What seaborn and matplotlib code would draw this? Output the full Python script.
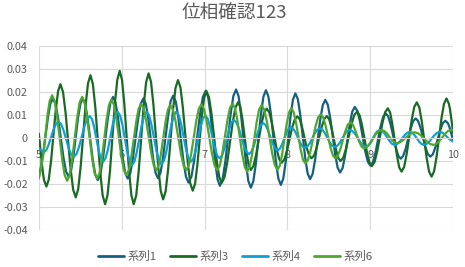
import matplotlib
matplotlib.use("Agg")
import matplotlib.pyplot as plt
import numpy as np
import pandas as pd
import seaborn as sns

# ---------------- data ----------------
series_names = ["系列1", "系列3", "系列4", "系列6"]
series_colors = ["#156082", "#196B24", "#0F9ED5", "#4EA72E"]

# --- 系列1 ---
x_s1 = [5.000, 5.057, 5.113, 5.170, 5.233, 5.297, 5.360, 5.417, 5.473, 5.530, 5.590, 5.651,
        5.711, 5.773, 5.834, 5.896, 5.955, 6.013, 6.072, 6.135, 6.199, 6.262, 6.321, 6.379,
        6.438, 6.499, 6.560, 6.621, 6.683, 6.745, 6.807, 6.876, 6.946, 7.015, 7.072, 7.128,
        7.185, 7.250, 7.315, 7.380, 7.439, 7.499, 7.558, 7.619, 7.679, 7.740, 7.800, 7.860,
        7.920, 7.978, 8.037, 8.095, 8.154, 8.214, 8.273, 8.334, 8.395, 8.456, 8.516, 8.575,
        8.635, 8.694, 8.753, 8.812, 8.875, 8.937, 9.000, 9.062, 9.123, 9.185, 9.245, 9.306,
        9.366, 9.426, 9.486, 9.546, 9.605, 9.664, 9.723, 9.783, 9.844, 9.904, 9.952, 10.000]
y_s1 = [-0.0154, -0.0059, 0.0096, 0.0172, 0.0087, -0.0083, -0.0168, -0.0083, 0.0087, 0.0172, 0.0083, -0.0094,
        -0.0183, -0.0093, 0.0089, 0.0179, 0.0090, -0.0087, -0.0176, -0.0089, 0.0085, 0.0172, 0.0085, -0.0088,
        -0.0175, -0.0085, 0.0094, 0.0184, 0.0090, -0.0100, -0.0194, -0.0094, 0.0106, 0.0206, 0.0103, -0.0105,
        -0.0208, -0.0103, 0.0106, 0.0211, 0.0104, -0.0109, -0.0216, -0.0110, 0.0102, 0.0208, 0.0105, -0.0101,
        -0.0204, -0.0105, 0.0095, 0.0194, 0.0101, -0.0086, -0.0179, -0.0093, 0.0080, 0.0166, 0.0087, -0.0071,
        -0.0150, -0.0079, 0.0064, 0.0135, 0.0071, -0.0056, -0.0120, -0.0063, 0.0050, 0.0107, 0.0058, -0.0041,
        -0.0090, -0.0046, 0.0041, 0.0085, 0.0044, -0.0040, -0.0081, -0.0042, 0.0036, 0.0075, 0.0050, -0.0012]
x_s1_near_peaks = [5.020, 5.140, 5.202, 5.328, 5.388, 5.502, 5.560, 5.681, 5.742, 5.865, 5.925, 6.043,
                   6.104, 6.230, 6.291, 6.409, 6.4685, 6.5905, 6.652, 6.776, 6.842, 6.980, 7.043, 7.157,
                   7.2175, 7.3475, 7.410, 7.528, 7.588, 7.710, 7.770, 7.890, 7.949, 8.066, 8.125, 8.243,
                   8.3035, 8.4255, 8.486, 8.605, 8.6645, 8.7825, 8.843, 8.969, 9.031, 9.154, 9.215, 9.336,
                   9.396, 9.516, 9.5755, 9.6935, 9.753, 9.874, 9.934]
y_s1_near_peaks = [-0.0138, 0.0149, 0.0149, -0.0145, -0.0145, 0.0149, 0.0148, -0.0159, -0.0159, 0.0155, 0.0155, -0.0152,
                   -0.0153, 0.0149, 0.0149, -0.0152, -0.0151, 0.0160, 0.0159, -0.0169, -0.0167, 0.0179, 0.0178, -0.0180,
                   -0.0180, 0.0183, 0.0182, -0.0187, -0.0188, 0.0180, 0.0180, -0.0176, -0.0177, 0.0167, 0.0169, -0.0154,
                   -0.0156, 0.0143, 0.0145, -0.0129, -0.0131, 0.0116, 0.0118, -0.0103, -0.0105, 0.0092, 0.0094, -0.0077,
                   -0.0078, 0.0074, 0.0074, -0.0070, -0.0071, 0.0065, 0.0065]

# --- 系列3 ---
x_s3 = [5.000, 5.046, 5.092, 5.148, 5.205, 5.261, 5.323, 5.384, 5.446, 5.505, 5.564, 5.623,
        5.682, 5.741, 5.800, 5.859, 5.917, 5.976, 6.032, 6.089, 6.145, 6.205, 6.265, 6.325,
        6.383, 6.442, 6.500, 6.560, 6.619, 6.679, 6.738, 6.798, 6.857, 6.912, 6.967, 7.022,
        7.084, 7.145, 7.207, 7.273, 7.339, 7.405, 7.456, 7.507, 7.558, 7.622, 7.686, 7.750,
        7.810, 7.870, 7.930, 7.993, 8.055, 8.118, 8.175, 8.233, 8.290, 8.352, 8.413, 8.475,
        8.530, 8.585, 8.640, 8.707, 8.773, 8.840, 8.899, 8.959, 9.018, 9.082, 9.146, 9.210,
        9.265, 9.321, 9.376, 9.437, 9.499, 9.560, 9.619, 9.679, 9.738, 9.798, 9.858, 9.918,
        9.960, 10.000]
y_s3 = [0.0020, -0.0140, -0.0211, -0.0100, 0.0123, 0.0234, 0.0111, -0.0135, -0.0258, -0.0125, 0.0140, 0.0273,
        0.0133, -0.0148, -0.0288, -0.0143, 0.0147, 0.0292, 0.0147, -0.0143, -0.0288, -0.0146, 0.0139, 0.0281,
        0.0144, -0.0130, -0.0267, -0.0137, 0.0122, 0.0252, 0.0132, -0.0109, -0.0229, -0.0121, 0.0096, 0.0204,
        0.0104, -0.0095, -0.0195, -0.0107, 0.0068, 0.0156, 0.0082, -0.0065, -0.0139, -0.0072, 0.0061, 0.0128,
        0.0069, -0.0049, -0.0108, -0.0058, 0.0044, 0.0094, 0.0049, -0.0043, -0.0088, -0.0042, 0.0049, 0.0095,
        0.0046, -0.0051, -0.0100, -0.0046, 0.0061, 0.0115, 0.0056, -0.0063, -0.0122, -0.0059, 0.0066, 0.0129,
        0.0060, -0.0077, -0.0146, -0.0071, 0.0080, 0.0155, 0.0074, -0.0087, -0.0168, -0.0083, 0.0087, 0.0172,
        0.0126, 0.0020]
x_s3_near_peaks = [5.063, 5.120, 5.233, 5.292, 5.415, 5.4755, 5.5935, 5.6525, 5.7705, 5.829, 5.947, 6.004,
                   6.117, 6.175, 6.295, 6.354, 6.471, 6.530, 6.649, 6.709, 6.827, 6.8845, 6.9945, 7.053,
                   7.176, 7.240, 7.372, 7.4305, 7.5325, 7.590, 7.718, 7.780, 7.900, 7.961, 8.087, 8.147,
                   8.261, 8.321, 8.444, 8.5025, 8.6125, 8.673, 8.807, 8.870, 8.988, 9.050, 9.178, 9.238,
                   9.348, 9.407, 9.529, 9.590, 9.708, 9.768, 9.888, 9.947]
y_s3_near_peaks = [-0.0183, -0.0181, 0.0204, 0.0201, -0.0225, -0.0222, 0.0237, 0.0235, -0.0250, -0.0249, 0.0253, 0.0253,
                   -0.0249, -0.0250, 0.0243, 0.0244, -0.0230, -0.0232, 0.0217, 0.0220, -0.0197, -0.0200, 0.0175, 0.0177,
                   -0.0168, -0.0171, 0.0132, 0.0136, -0.0119, -0.0121, 0.0110, 0.0112, -0.0092, -0.0094, 0.0080, 0.0082,
                   -0.0076, -0.0076, 0.0083, 0.0082, -0.0087, -0.0086, 0.0101, 0.0099, -0.0106, -0.0105, 0.0112, 0.0111,
                   -0.0128, -0.0126, 0.0135, 0.0133, -0.0146, -0.0145, 0.0149, 0.0149]

# --- 系列4 ---
x_s4 = [5.000, 5.060, 5.119, 5.179, 5.238, 5.299, 5.361, 5.422, 5.486, 5.551, 5.615, 5.669,
        5.722, 5.776, 5.835, 5.893, 5.952, 6.010, 6.067, 6.125, 6.183, 6.242, 6.300, 6.360,
        6.420, 6.480, 6.540, 6.599, 6.659, 6.718, 6.776, 6.835, 6.893, 6.950, 7.008, 7.065,
        7.123, 7.180, 7.238, 7.295, 7.353, 7.414, 7.474, 7.535, 7.592, 7.648, 7.705, 7.763,
        7.822, 7.880, 7.933, 7.987, 8.040, 8.097, 8.153, 8.210, 8.270, 8.330, 8.390, 8.450,
        8.510, 8.570, 8.630, 8.691, 8.751, 8.817, 8.882, 8.948, 9.003, 9.058, 9.113, 9.173,
        9.233, 9.293, 9.354, 9.415, 9.476, 9.532, 9.589, 9.645, 9.709, 9.774, 9.838, 9.900,
        9.950, 10.000]
y_s4 = [-0.0045, -0.0062, -0.0029, 0.0038, 0.0071, 0.0033, -0.0044, -0.0082, -0.0038, 0.0051, 0.0095, 0.0046,
        -0.0054, -0.0103, -0.0049, 0.0060, 0.0114, 0.0056, -0.0060, -0.0118, -0.0060, 0.0056, 0.0114, 0.0057,
        -0.0057, -0.0114, -0.0057, 0.0057, 0.0114, 0.0060, -0.0049, -0.0103, -0.0053, 0.0047, 0.0097, 0.0051,
        -0.0042, -0.0088, -0.0047, 0.0037, 0.0078, 0.0041, -0.0033, -0.0070, -0.0036, 0.0031, 0.0065, 0.0035,
        -0.0024, -0.0054, -0.0029, 0.0022, 0.0047, 0.0025, -0.0021, -0.0043, -0.0022, 0.0021, 0.0042, 0.0022,
        -0.0019, -0.0039, -0.0021, 0.0017, 0.0035, 0.0017, -0.0020, -0.0038, -0.0020, 0.0017, 0.0035, 0.0019,
        -0.0014, -0.0030, -0.0016, 0.0013, 0.0027, 0.0013, -0.0016, -0.0030, -0.0016, 0.0013, 0.0027, 0.0014,
        -0.0004, -0.0016]
x_s4_near_peaks = [5.090, 5.208, 5.269, 5.391, 5.454, 5.583, 5.642, 5.749, 5.805, 5.923, 5.981, 6.096,
                   6.154, 6.271, 6.330, 6.450, 6.510, 6.629, 6.688, 6.806, 6.864, 6.979, 7.037, 7.151,
                   7.209, 7.324, 7.383, 7.505, 7.563, 7.677, 7.734, 7.851, 7.907, 8.013, 8.068, 8.182,
                   8.240, 8.360, 8.420, 8.540, 8.600, 8.721, 8.784, 8.915, 8.9755, 9.0855, 9.143, 9.263,
                   9.3235, 9.4455, 9.504, 9.617, 9.677, 9.806, 9.870]
y_s4_near_peaks = [-0.0053, 0.0062, 0.0061, -0.0072, -0.0070, 0.0083, 0.0082, -0.0090, -0.0088, 0.0099, 0.0098, -0.0102,
                   -0.0102, 0.0098, 0.0099, -0.0099, -0.0099, 0.0099, 0.0099, -0.0088, -0.0090, 0.0084, 0.0085, -0.0076,
                   -0.0077, 0.0067, 0.0068, -0.0060, -0.0061, 0.0056, 0.0057, -0.0046, -0.0047, 0.0040, 0.0041, -0.0037,
                   -0.0037, 0.0036, 0.0037, -0.0034, -0.0034, 0.0030, 0.0030, -0.0033, -0.0033, 0.0030, 0.0031, -0.0026,
                   -0.0026, 0.0023, 0.0023, -0.0026, -0.0026, 0.0023, 0.0023]

# --- 系列6 ---
x_s6 = [5.000, 5.054, 5.107, 5.161, 5.221, 5.282, 5.342, 5.402, 5.463, 5.523, 5.583, 5.643,
        5.703, 5.761, 5.818, 5.876, 5.936, 5.996, 6.056, 6.115, 6.175, 6.234, 6.295, 6.357,
        6.418, 6.474, 6.530, 6.586, 6.650, 6.715, 6.779, 6.839, 6.900, 6.960, 7.024, 7.089,
        7.153, 7.214, 7.276, 7.337, 7.396, 7.455, 7.514, 7.572, 7.629, 7.687, 7.751, 7.816,
        7.880, 7.935, 7.991, 8.046, 8.102, 8.159, 8.215, 8.277, 8.338, 8.400, 8.459, 8.518,
        8.577, 8.637, 8.697, 8.757, 8.811, 8.866, 8.920, 8.992, 9.063, 9.135, 9.197, 9.258,
        9.320, 9.392, 9.464, 9.536, 9.610, 9.684, 9.758, 9.830, 9.903, 9.975, 10.000]
y_s6 = [-0.0176, -0.0075, 0.0105, 0.0186, 0.0093, -0.0093, -0.0186, -0.0095, 0.0088, 0.0179, 0.0090, -0.0087,
        -0.0176, -0.0090, 0.0081, 0.0167, 0.0085, -0.0079, -0.0161, -0.0084, 0.0071, 0.0148, 0.0076, -0.0067,
        -0.0139, -0.0069, 0.0073, 0.0143, 0.0073, -0.0069, -0.0139, -0.0068, 0.0075, 0.0146, 0.0075, -0.0068,
        -0.0139, -0.0067, 0.0078, 0.0150, 0.0076, -0.0072, -0.0146, -0.0074, 0.0071, 0.0143, 0.0073, -0.0068,
        -0.0138, -0.0071, 0.0062, 0.0129, 0.0069, -0.0050, -0.0110, -0.0057, 0.0050, 0.0103, 0.0055, -0.0040,
        -0.0088, -0.0049, 0.0029, 0.0068, 0.0040, -0.0017, -0.0045, -0.0025, 0.0015, 0.0035, 0.0021, -0.0008,
        -0.0022, -0.0010, 0.0013, 0.0025, 0.0011, -0.0016, -0.0030, -0.0014, 0.0019, 0.0035, 0.0034]
x_s6_near_peaks = [5.015, 5.132, 5.191, 5.312, 5.372, 5.493, 5.553, 5.673, 5.732, 5.847, 5.906, 6.026,
                   6.086, 6.204, 6.265, 6.387, 6.446, 6.558, 6.618, 6.747, 6.809, 6.930, 6.992, 7.121,
                   7.184, 7.306, 7.3665, 7.4845, 7.543, 7.658, 7.719, 7.848, 7.908, 8.018, 8.074, 8.187,
                   8.246, 8.369, 8.4295, 8.5475, 8.607, 8.727, 8.784, 8.893, 8.956, 9.099, 9.166, 9.289,
                   9.356, 9.500, 9.573, 9.721, 9.794, 9.939]
y_s6_near_peaks = [-0.0154, 0.0162, 0.0161, -0.0161, -0.0162, 0.0155, 0.0155, -0.0152, -0.0153, 0.0144, 0.0145, -0.0139,
                   -0.0140, 0.0127, 0.0129, -0.0120, -0.0120, 0.0124, 0.0124, -0.0120, -0.0120, 0.0127, 0.0127, -0.0120,
                   -0.0120, 0.0131, 0.0130, -0.0126, -0.0127, 0.0124, 0.0124, -0.0119, -0.0120, 0.0111, 0.0113, -0.0094,
                   -0.0096, 0.0089, 0.0090, -0.0075, -0.0078, 0.0058, 0.0060, -0.0037, -0.0040, 0.0030, 0.0031, -0.0018,
                   -0.0019, 0.0022, 0.0021, -0.0026, -0.0026, 0.0031]

x_ticks = [5, 6, 7, 8, 9, 10]
x_tick_labels = ["5", "6", "7", "8", "9", "10"]
y_ticks = [-0.04, -0.03, -0.02, -0.01, 0.0, 0.01, 0.02, 0.03, 0.04]
y_tick_labels = ["-0.04", "-0.03", "-0.02", "-0.01", "0", "0.01", "0.02", "0.03", "0.04"]
title_text = "位相確認123"

# ---------------- build long table ----------------
series_points = [
    (x_s1 + x_s1_near_peaks, y_s1 + y_s1_near_peaks),
    (x_s3 + x_s3_near_peaks, y_s3 + y_s3_near_peaks),
    (x_s4 + x_s4_near_peaks, y_s4 + y_s4_near_peaks),
    (x_s6 + x_s6_near_peaks, y_s6 + y_s6_near_peaks),
]
frames = []
for name, (xs, ys) in zip(series_names, series_points):
    part = pd.DataFrame({"x": xs, "y": ys, "series": name}).sort_values("x")
    frames.append(part)
df = pd.concat(frames, ignore_index=True)

# ---------------- style ----------------
sns.set_theme(style="white")
plt.rcParams["font.family"] = ["Noto Sans CJK JP", "DejaVu Sans"]
text_color = "#595959"
grid_color = "#D9D9D9"

fig = plt.figure(figsize=(4.65, 2.67), dpi=100)
fig.patch.set_facecolor("white")
ax = fig.add_axes([0.0834, 0.1386, 0.8914, 0.689])

sns.lineplot(data=df, x="x", y="y", hue="series", hue_order=series_names,
             palette=dict(zip(series_names, series_colors)), estimator=None,
             sort=False, linewidth=1.6, ax=ax, legend=True,
             solid_joinstyle="round", solid_capstyle="round")

handles, labels = ax.get_legend_handles_labels()
ax.get_legend().remove()

ax.set_xlim(5, 10)
ax.set_ylim(-0.04, 0.04)
ax.set_xticks(x_ticks)
ax.set_xticklabels(x_tick_labels)
ax.set_yticks(y_ticks)
ax.set_yticklabels(y_tick_labels)
ax.set_xlabel("")
ax.set_ylabel("")
ax.grid(True, color=grid_color, linewidth=0.8)
ax.set_axisbelow(True)
for s in ["top", "right", "left"]:
    ax.spines[s].set_visible(False)
ax.spines["bottom"].set_position(("data", 0))
ax.spines["bottom"].set_color(grid_color)
ax.spines["bottom"].set_linewidth(0.8)
ax.tick_params(axis="x", length=0, pad=8.3, labelsize=7.8, labelcolor=text_color)
ax.tick_params(axis="y", length=0, pad=8.0, labelsize=7.8, labelcolor=text_color)

fig.text(0.505, 1 - 13.7 / 267, title_text, ha="center", va="center",
         fontsize=13.4, color=text_color)

leg = fig.legend(handles, labels, loc="center", bbox_to_anchor=(0.506, 0.041),
                 ncol=4, frameon=False, fontsize=8.2, handlelength=2.3,
                 handletextpad=0.3, columnspacing=1.15, borderaxespad=0)
for t in leg.get_texts():
    t.set_color(text_color)
for h in leg.get_lines():
    h.set_linewidth(2.0)

fig.savefig("out.png", dpi=100, facecolor="white")
